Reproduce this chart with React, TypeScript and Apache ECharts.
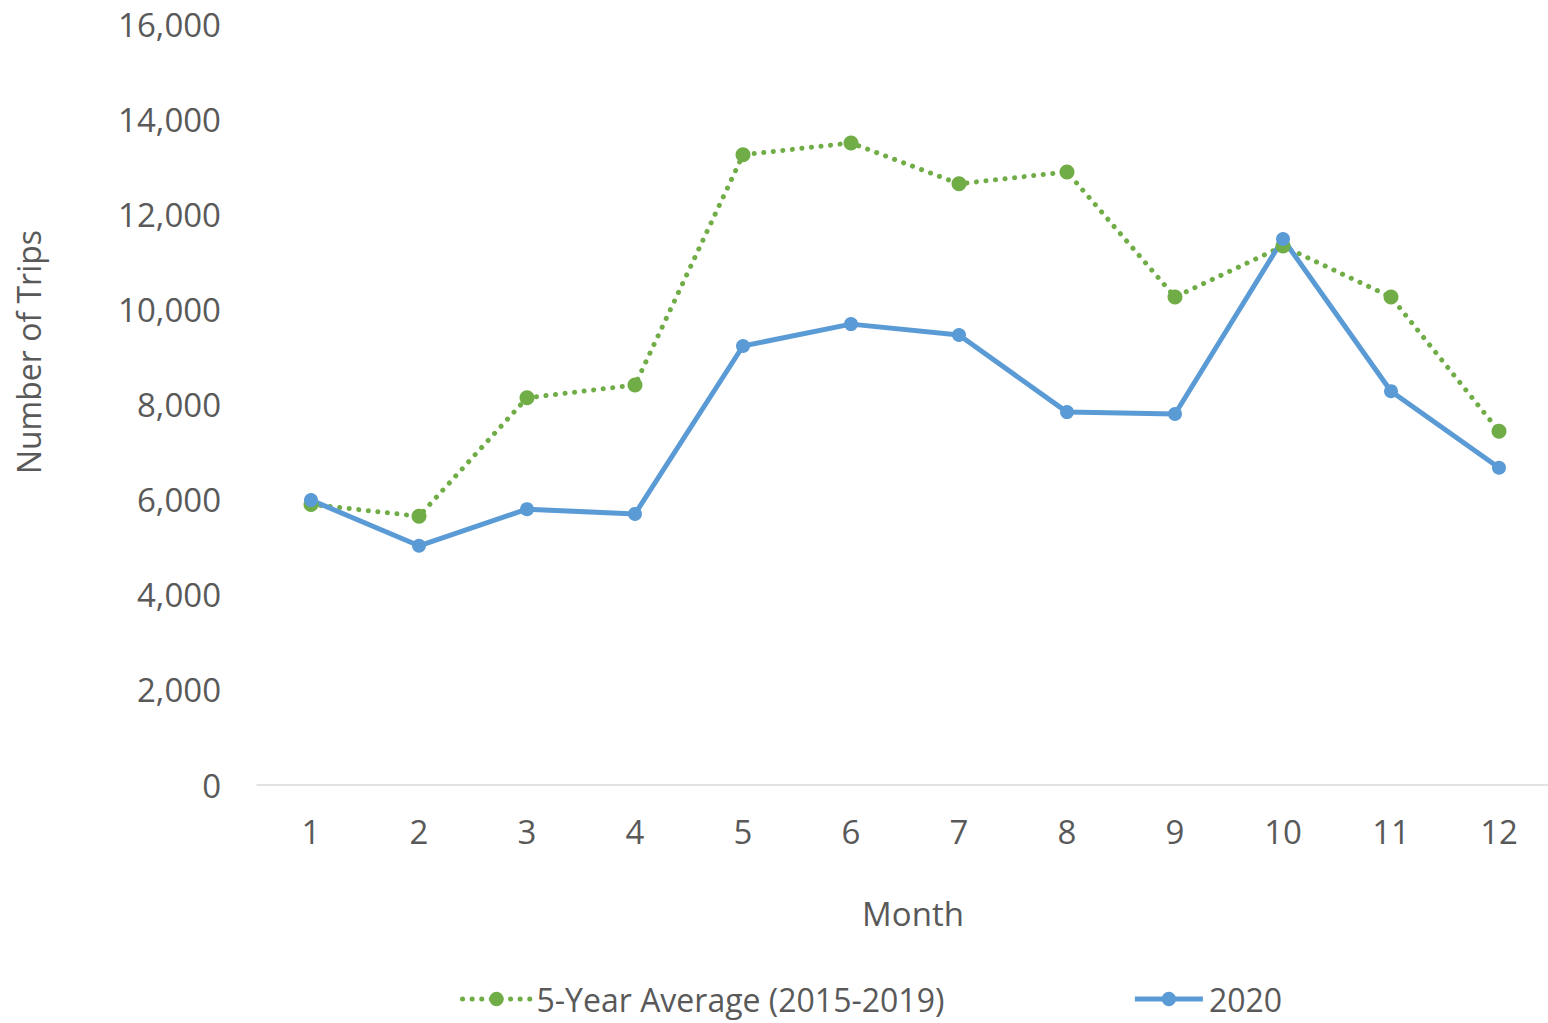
import React, { useEffect, useRef } from "react";
import * as echarts from "echarts";

const months = ["1", "2", "3", "4", "5", "6", "7", "8", "9", "10", "11", "12"];
const avg5yr = [5900, 5650, 8140, 8410, 13250, 13500, 12640, 12890, 10260, 11330, 10260, 7440];
const trips2020 = [5990, 5030, 5800, 5700, 9230, 9690, 9460, 7840, 7800, 11480, 8280, 6670];
const seriesNames = ["5-Year Average (2015-2019)", "2020"];
const yTicks = { min: 0, max: 16000, interval: 2000 };

const FONT = "'Open Sans', sans-serif";
const TEXT = "#595959";
const GREEN = "#70AD47";
const BLUE = "#5B9BD5";

export default function App() {
  const ref = useRef<HTMLDivElement>(null);
  useEffect(() => {
    if (!ref.current) return;
    const chart = echarts.init(ref.current, null, { renderer: "svg" });
    const greenLine = { color: GREEN, width: 5, type: [0.1, 9.5] as number[], cap: "round" };
    const blueLine = { color: BLUE, width: 5 };
    chart.setOption({
      animation: false,
      backgroundColor: "#ffffff",
      textStyle: { fontFamily: FONT },
      grid: { left: 257, top: 24, width: 1296, height: 761, containLabel: false },
      xAxis: {
        type: "category",
        data: months,
        boundaryGap: true,
        axisLine: { show: true, lineStyle: { color: "#D9D9D9", width: 1.5 } },
        axisTick: { show: false },
        axisLabel: { color: TEXT, fontSize: 33, fontFamily: FONT, margin: 30 },
        splitLine: { show: false },
      },
      yAxis: {
        type: "value",
        min: yTicks.min,
        max: yTicks.max,
        interval: yTicks.interval,
        axisLine: { show: false },
        axisTick: { show: false },
        splitLine: { show: false },
        axisLabel: {
          color: TEXT,
          fontSize: 33,
          fontFamily: FONT,
          margin: 36,
          formatter: (v: number) => v.toLocaleString("en-US"),
        },
      },
      legend: {
        left: 455,
        top: 978,
        itemWidth: 68,
        itemHeight: 18,
        itemGap: 188,
        textStyle: { color: TEXT, fontSize: 32, fontFamily: FONT, padding: [0, 0, 0, 1] },
        data: [
          { name: seriesNames[0], lineStyle: greenLine, itemStyle: { color: GREEN } },
          { name: seriesNames[1], lineStyle: blueLine, itemStyle: { color: BLUE } },
        ],
      },
      graphic: [
        {
          type: "text",
          x: 28,
          y: 352,
          rotation: Math.PI / 2,
          style: {
            text: "Number of Trips",
            fill: TEXT,
            font: `32px ${FONT}`,
            align: "center",
            verticalAlign: "middle",
          },
        },
        {
          type: "text",
          x: 913,
          y: 913,
          style: {
            text: "Month",
            fill: TEXT,
            font: `33px ${FONT}`,
            align: "center",
            verticalAlign: "middle",
          },
        },
      ],
      series: [
        {
          name: seriesNames[0],
          type: "line",
          data: avg5yr,
          color: GREEN,
          symbol: "circle",
          symbolSize: 15,
          lineStyle: greenLine,
          itemStyle: { color: GREEN },
        },
        {
          name: seriesNames[1],
          type: "line",
          data: trips2020,
          color: BLUE,
          symbol: "circle",
          symbolSize: 14,
          lineStyle: blueLine,
          itemStyle: { color: BLUE },
        },
      ],
    });
    return () => chart.dispose();
  }, []);
  return (
    <div style={{ position: "absolute", left: 0, top: 0, width: 1548, height: 1023, overflow: "hidden" }}>
      <div ref={ref} style={{ width: 1560, height: 1023 }} />
    </div>
  );
}
